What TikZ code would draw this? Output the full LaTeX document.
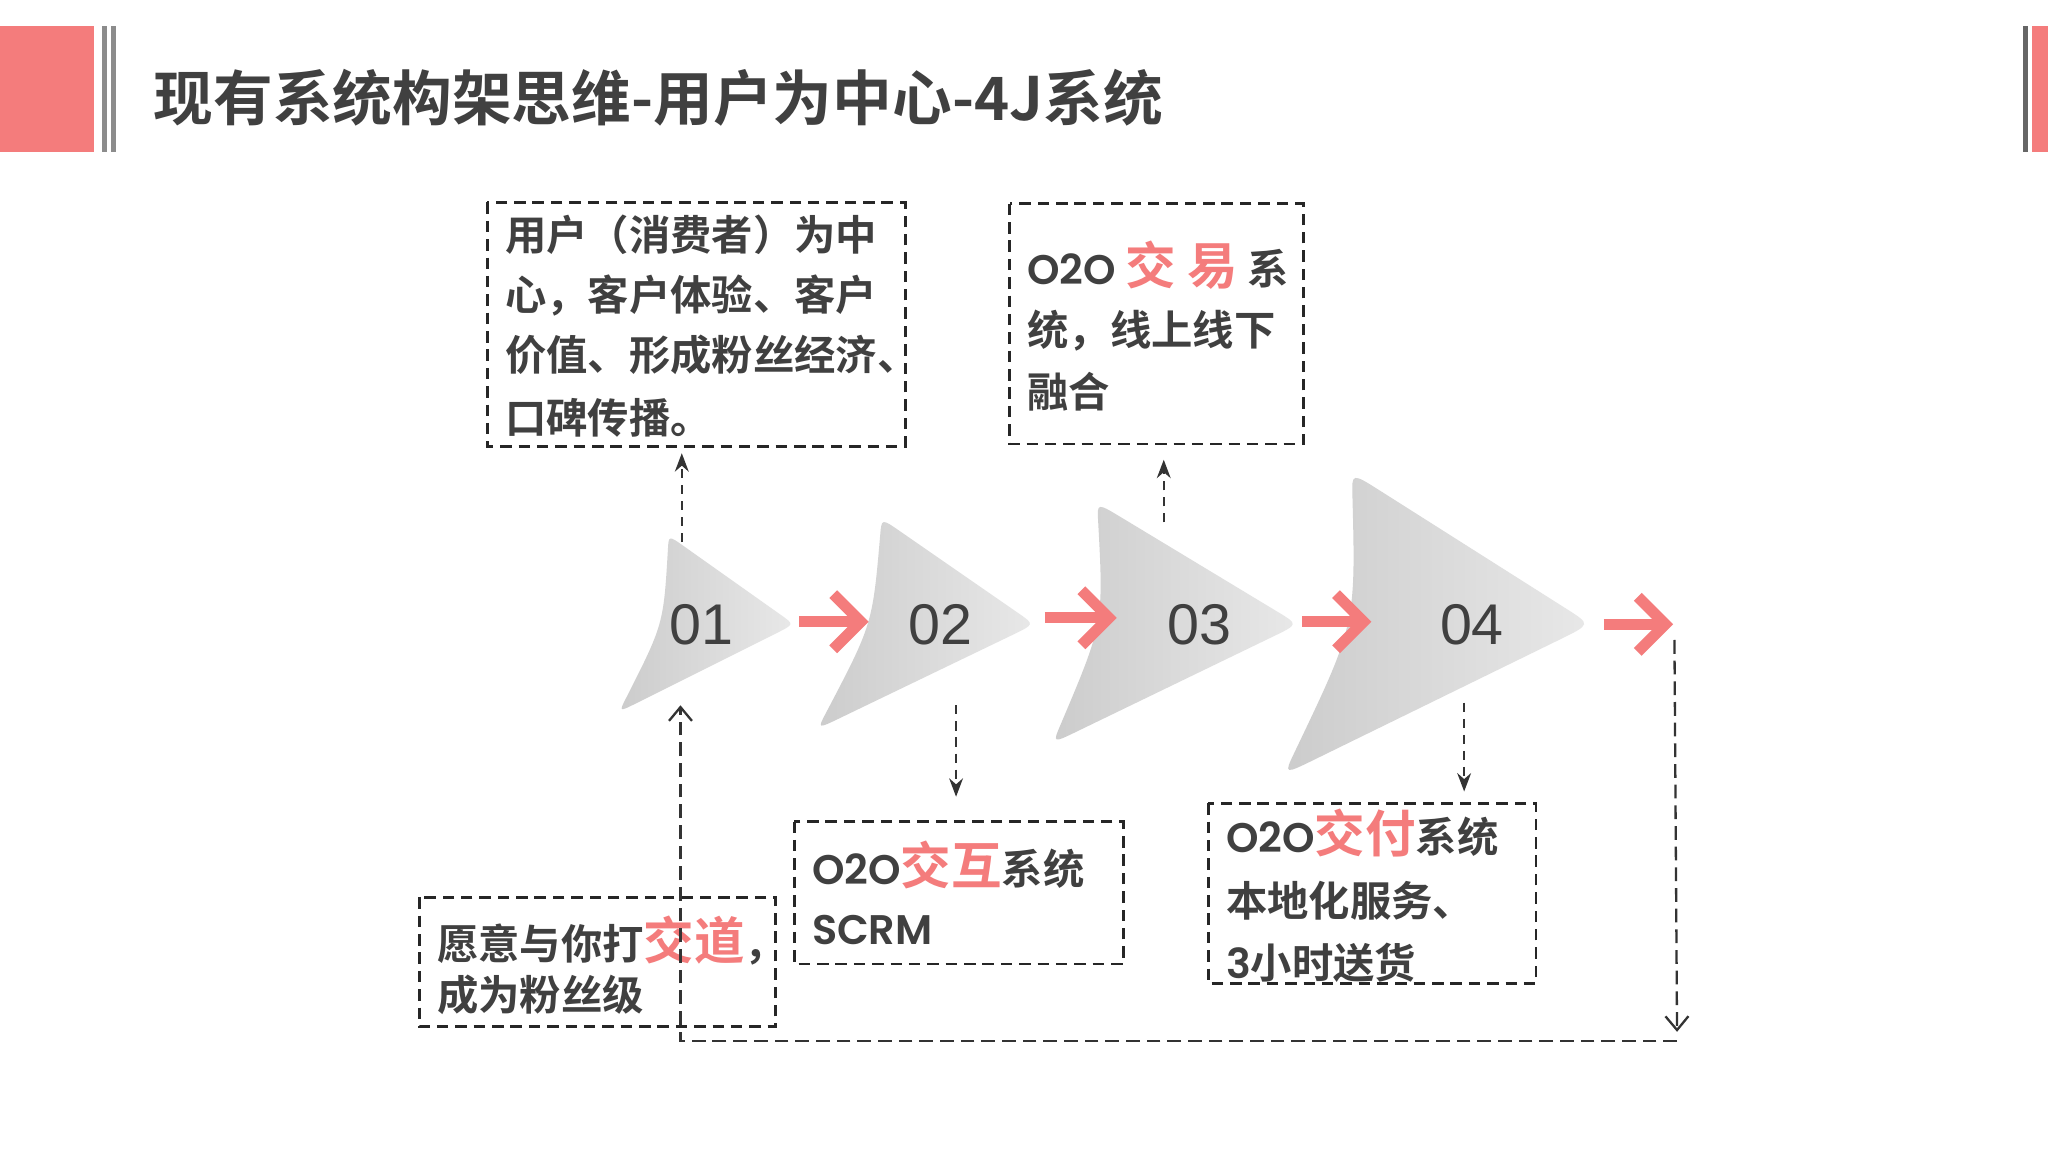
\documentclass[tikz,border=0pt]{standalone}
\usepackage{fontspec}
\newfontfamily\cjk{Noto Sans CJK SC}[BoldFont={Noto Sans CJK SC Bold}]
\newfontfamily\pop{Poppins}[BoldFont={Poppins SemiBold}]
\setmainfont{Liberation Sans}
\definecolor{pk}{HTML}{F47C7C}
\definecolor{tx}{HTML}{404040}
\usetikzlibrary{arrows.meta,calc}
\tikzset{
 bx/.style={draw=black!85,dash pattern=on 2.5pt off 1.5pt,line width=0.6pt},
 lbl/.style={anchor=west,inner sep=0,text=tx,font=\cjk\bfseries\fontsize{9}{10}\selectfont},
 dl/.style={draw=black!80,dash pattern=on 2pt off 1.5pt,line width=0.5pt,-{Stealth[length=4pt,width=3pt]}},
 fb/.style={draw=black!80,dash pattern=on 3pt off 1.5pt,line width=0.5pt,-{Straight Barb[length=3pt,width=5pt]}},
 pa/.style={draw=pk,line width=2.4pt,-{Straight Barb[length=6pt,width=12pt]}},
 num/.style={font=\fontsize{12.5}{13}\selectfont,text=tx},
 chev/.style={left color=black!20,right color=black!9,draw=none}
}
\newcommand{\mychev}[4]{% T P B C
 \path[chev] ($(#1)!0.12!(#2)$) -- ($(#1)!0.9!(#2)$) .. controls (#2) .. ($(#2)!0.1!(#3)$)
   -- ($(#2)!0.9!(#3)$) .. controls (#3) .. ($(#3)!0.15!(#4)$)
   .. controls (#4) .. ($(#1)!0.15!(#4)$) .. controls (#1) .. cycle;}
\begin{document}
\begin{tikzpicture}[x=0.01cm,y=-0.01cm]
\useasboundingbox (0,0) rectangle (1568,882);
\fill[white] (0,0) rectangle (1568,882);
% title bar
\fill[pk] (0,20) rectangle (72,116);
\draw[black!45,line width=1.2pt] (80,20)--(80,116) (87,20)--(87,116);
\fill[black!60] (1549,20) rectangle (1553,116);
\fill[pk] (1556,20) rectangle (1568,116);
\node[anchor=west,inner sep=0,text=tx,font=\cjk\bfseries\fontsize{13}{14}\selectfont] (title) at (117,75) {现有系统构架思维-用户为中心-4J系统};
% chevrons
\coordinate (T1) at (512,410); \coordinate (P1) at (608,478); \coordinate (B1) at (474,545); \coordinate (C1) at (508,478);
\coordinate (T2) at (675,397); \coordinate (P2) at (792,478); \coordinate (B2) at (626,558); \coordinate (C2) at (668,478);
\coordinate (T3) at (840,385); \coordinate (P3) at (994,478); \coordinate (B3) at (806,569); \coordinate (C3) at (845,477);
\coordinate (T4) at (1035,362); \coordinate (P4) at (1218,478); \coordinate (B4) at (983,593); \coordinate (C4) at (1038,478);
\mychev{T1}{P1}{B1}{C1}
\mychev{T2}{P2}{B2}{C2}
\mychev{T3}{P3}{B3}{C3}
\mychev{T4}{P4}{B4}{C4}
\node[num] (n1) at (537,478) {01};
\node[num] (n2) at (720,478) {02};
\node[num] (n3) at (918,478) {03};
\node[num] (n4) at (1127,478) {04};
\coordinate (a1s) at (612,476); \coordinate (a1e) at (665,476);
\coordinate (a2s) at (800,473); \coordinate (a2e) at (855,473);
\coordinate (a3s) at (997,476); \coordinate (a3e) at (1050,476);
\coordinate (a4s) at (1228,478); \coordinate (a4e) at (1281,478);
\draw[pa] (a1s)--(a1e); \draw[pa] (a2s)--(a2e); \draw[pa] (a3s)--(a3e); \draw[pa] (a4s)--(a4e);
% boxes
\draw[bx] (373,155) rectangle (693,342);
\node[lbl] (t1a) at (386,180) {用户（消费者）为中};
\node[lbl] (t1b) at (386,226) {心，客户体验、客户};
\node[lbl] (t1c) at (386,272) {价值、形成粉丝经济、};
\node[lbl] (t1d) at (386,320) {口碑传播。};
\draw[bx] (773,156) rectangle (998,340);
\node[lbl] (t2a) at (786,203) {{\pop\bfseries O2O} \textcolor{pk}{\fontsize{11}{12}\selectfont 交 易} 系};
\node[lbl] (t2b) at (786,253) {统，线上线下};
\node[lbl] (t2c) at (786,300) {融合};
\draw[bx] (608,629) rectangle (860,738);
\node[lbl] (t3a) at (621,662) {{\pop\bfseries O2O}\textcolor{pk}{\fontsize{11}{12}\selectfont 交互}系统};
\node[lbl] (t3b) at (621,712) {{\pop\bfseries SCRM}};
\draw[bx] (925,615) rectangle (1176,753);
\node[lbl] (t4a) at (938,638) {{\pop\bfseries O2O}\textcolor{pk}{\fontsize{11}{12}\selectfont 交付}系统};
\node[lbl] (t4b) at (938,690) {本地化服务、};
\node[lbl] (t4c) at (938,737) {{\pop\bfseries 3}小时送货};
\draw[bx] (321,687) rectangle (594,786);
\node[lbl] (t5a) at (334,720) {愿意与你打\textcolor{pk}{\fontsize{11}{12}\selectfont 交道}，};
\node[lbl] (t5b) at (334,762) {成为粉丝级};
% dashed connectors
\coordinate (c1) at (522,415); \coordinate (c1e) at (522,347);
\coordinate (c3) at (891,400); \coordinate (c3e) at (891,352);
\coordinate (c2) at (732,540); \coordinate (c2e) at (732,610);
\coordinate (c4) at (1121,538); \coordinate (c4e) at (1121,606);
\draw[dl] (c1)--(c1e); \draw[dl] (c3)--(c3e);
\draw[dl] (c2)--(c2e); \draw[dl] (c4)--(c4e);
\coordinate (f1) at (1282,490); \coordinate (f2) at (1284,790);
\coordinate (f3) at (1284,797); \coordinate (f4) at (521,797); \coordinate (f5) at (521,540);
\draw[fb] (f1)--(f2);
\draw[fb] (f3)--(f4)--(f5);
\end{tikzpicture}
\end{document}
